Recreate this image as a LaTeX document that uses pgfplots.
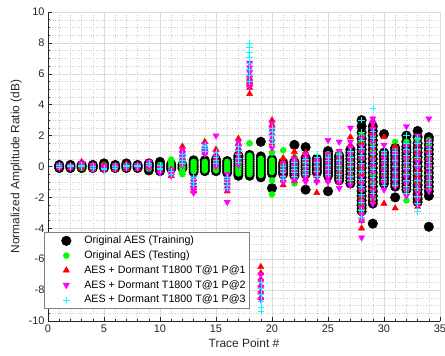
\documentclass[border=0pt]{standalone}
\usepackage{pgfplots}
\pgfplotsset{compat=1.18}
\usepackage{fontspec}
\setmainfont{Liberation Sans}
\definecolor{axgray}{HTML}{262626}
\definecolor{gridmaj}{HTML}{DCDCDC}
\definecolor{gridmin}{HTML}{D0D0D0}
\definecolor{mgreen}{RGB}{0,255,0}
\definecolor{mred}{RGB}{255,0,0}
\definecolor{mmag}{RGB}{255,0,255}
\definecolor{mcyan}{RGB}{0,255,255}
\begin{document}
\begin{tikzpicture}
\begin{axis}[
  scale only axis,
  width=392bp, height=309bp,
  xmin=0, xmax=35, ymin=-10, ymax=10,
  xtick={0,5,...,35}, ytick={-10,-8,...,10},
  minor x tick num=4, minor y tick num=3,
  axis x line*=bottom, axis y line*=left,
  axis line style={axgray, line width=0.5pt},
  tick align=inside,
  major tick length=4bp, minor tick length=2bp,
  tick style={axgray, line width=0.5pt},
  grid=both,
  major grid style={gridmaj, line width=0.5pt},
  minor grid style={gridmin, line width=0.4pt, dotted},
  ticklabel style={font=\fontsize{11}{13}\selectfont, text=axgray},
  /pgf/number format/assume math mode=true,
  xlabel={Trace Point \#},
  ylabel={Normalized Amplitude Ratio (dB)},
  label style={font=\fontsize{12}{14}\selectfont, text=axgray},
  legend style={at={(-0.01,0.04)}, anchor=south west, draw=gray, line width=0.5pt,
    font=\fontsize{10.75}{13}\selectfont, row sep=1.5bp, inner xsep=2bp, inner ysep=2bp},
  legend cell align=left,
  legend image code/.code={\path[draw=none,fill=none] (0bp,0bp) (36bp,0bp); \draw[#1] plot coordinates {(20bp,0bp)};},
]
\addplot[only marks, mark=*, mark size=4.8bp, draw=black, fill=black] coordinates {
(1,-0.1)(1,0)(1,0.1)
(2,-0.1)(2,0)(2,0.1)
(3,-0.1)(3,0)(3,0.1)
(4,-0.1)(4,0)(4,0.1)
(5,-0.1)(5,0.05)(5,0.2)
(6,-0.1)(6,0)(6,0.1)
(7,-0.1)(7,0)(7,0.1)(7,0.2)
(8,-0.1)(8,0)(8,0.1)
(9,-0.25)(9,-0.1)(9,0.05)(9,0.2)
(10,-0.3)(10,-0.15)(10,0)(10,0.15)(10,0.3)
(11,-0.15)(11,0)(11,0.15)
(12,-0.1)(12,0.1)
(13,-0.35)(13,-0.2)(13,-0.05)(13,0.1)(13,0.25)(13,0.4)
(14,-0.3)(14,-0.15)(14,0)(14,0.15)(14,0.3)(14,0.4)
(15,-0.3)(15,-0.15)(15,0)(15,0.15)(15,0.3)(15,0.45)
(16,-0.4)(16,-0.25)(16,-0.1)(16,0.05)(16,0.2)(16,0.35)
(17,-0.6)(17,-0.45)(17,-0.3)(17,-0.15)(17,0)(17,0.15)(17,0.3)(17,0.45)(17,0.6)(17,0.7)
(18,-0.6)(18,-0.45)(18,-0.3)(18,-0.15)(18,0)(18,0.15)(18,0.3)(18,0.45)(18,0.6)(18,0.75)
(19,-0.7)(19,-0.55)(19,-0.4)(19,-0.25)(19,-0.1)(19,0.05)(19,0.2)(19,0.35)(19,0.5)(19,0.65)(19,1.6)
(20,-1.4)(20,-0.45)(20,-0.3)(20,-0.15)(20,0)(20,0.15)(20,0.3)(20,0.45)
(21,-0.5)(21,-0.35)(21,-0.2)(21,-0.05)(21,0.1)(21,0.25)
(22,-0.6)(22,-0.45)(22,-0.3)(22,-0.15)(22,0)(22,0.15)(22,0.3)(22,1.4)
(23,-1.5)(23,-0.5)(23,-0.35)(23,-0.2)(23,-0.05)(23,0.1)(23,0.25)(23,0.4)(23,0.55)(23,1.25)
(24,-0.4)(24,-0.25)(24,-0.1)(24,0.05)(24,0.2)(24,0.35)(24,0.5)
(25,-1.6)(25,-0.6)(25,-0.45)(25,-0.3)(25,-0.15)(25,0)(25,0.15)(25,0.3)(25,0.45)(25,0.6)(25,0.75)(25,0.9)(25,1.0)
(26,-0.9)(26,-0.75)(26,-0.6)(26,-0.45)(26,-0.3)(26,-0.15)(26,0)(26,0.15)(26,0.3)(26,0.45)(26,0.6)(26,0.7)
(27,-1.1)(27,-0.9)(27,-0.7)(27,-0.5)(27,-0.3)(27,-0.1)(27,0.1)(27,0.3)(27,0.5)(27,0.7)(27,0.9)(27,1.1)
(28,-2.9)(28,-2.7)(28,-2.5)(28,-2.2)(28,-1.9)(28,-1.6)(28,-1.3)(28,-1.0)(28,-0.7)(28,-0.4)(28,-0.1)(28,0.2)(28,0.5)(28,0.8)(28,1.1)(28,1.4)(28,1.8)(28,2.2)(28,2.6)(28,3.0)
(29,-3.7)(29,-2.4)(29,-2.2)(29,-1.9)(29,-1.6)(29,-1.3)(29,-1.0)(29,-0.7)(29,-0.4)(29,-0.1)(29,0.2)(29,0.5)(29,0.8)(29,1.1)(29,1.4)(29,1.7)(29,2.0)(29,2.3)(29,2.6)
(30,-1.1)(30,-0.9)(30,-0.7)(30,-0.5)(30,-0.3)(30,-0.1)(30,0.1)(30,0.3)(30,0.5)(30,0.7)(30,0.9)(30,2.1)
(31,-2.0)(31,-1.3)(31,-1.1)(31,-0.9)(31,-0.7)(31,-0.5)(31,-0.3)(31,-0.1)(31,0.1)(31,0.3)(31,0.5)(31,0.7)(31,0.9)(31,1.1)(31,1.2)
(32,-1.5)(32,-1.3)(32,-1.1)(32,-0.9)(32,-0.7)(32,-0.5)(32,-0.3)(32,-0.1)(32,0.1)(32,0.3)(32,0.5)(32,0.7)(32,0.9)(32,1.1)(32,1.3)(32,1.6)(32,2.0)
(33,-2.3)(33,-2.1)(33,-1.8)(33,-1.5)(33,-1.2)(33,-0.9)(33,-0.6)(33,-0.3)(33,0)(33,0.3)(33,0.6)(33,0.9)(33,1.2)(33,1.5)(33,1.9)(33,2.3)
(34,-3.9)(34,-1.9)(34,-1.6)(34,-1.3)(34,-1.0)(34,-0.7)(34,-0.4)(34,-0.1)(34,0.2)(34,0.5)(34,0.8)(34,1.1)(34,1.4)(34,1.7)(34,1.9)
};
\addlegendentry{Original AES (Training)}
\addplot[only marks, mark=*, mark size=3bp, draw=mgreen, fill=mgreen] coordinates {
(1,-0.05)(1,0.05)
(2,0)
(3,-0.1)(3,0.05)
(4,-0.15)(4,0)
(5,-0.05)(5,0.1)
(6,-0.05)(6,0.05)
(7,-0.1)(7,0.05)
(8,0)
(9,-0.15)(9,0)(9,0.15)
(10,-0.1)(10,0.1)
(11,-0.3)(11,-0.15)(11,0)(11,0.15)(11,0.3)(11,0.45)
(12,-0.5)(12,-0.35)(12,-0.2)(12,-0.05)(12,0.1)(12,0.25)(12,0.4)(12,0.5)
(13,-0.3)(13,-0.15)(13,0)(13,0.15)(13,0.3)
(14,-0.25)(14,-0.1)(14,0.05)(14,0.2)(14,0.3)
(15,-0.25)(15,-0.1)(15,0.05)(15,0.2)(15,0.35)
(16,-0.3)(16,-0.15)(16,0)(16,0.15)(16,0.3)
(17,-0.45)(17,-0.3)(17,-0.15)(17,0)(17,0.15)(17,0.3)(17,0.45)
(18,-0.5)(18,-0.35)(18,-0.2)(18,-0.05)(18,0.1)(18,0.25)(18,0.4)(18,0.55)(18,0.7)(18,1.5)
(19,-0.55)(19,-0.4)(19,-0.25)(19,-0.1)(19,0.05)(19,0.2)(19,0.35)(19,0.5)
(20,-1.8)(20,-0.9)(20,-0.35)(20,-0.2)(20,-0.05)(20,0.1)(20,0.25)(20,0.4)(20,0.9)
(21,-0.3)(21,-0.1)(21,0.1)(21,1.05)
(22,-1.1)(22,-0.8)(22,-0.3)(22,0)(22,0.3)(22,0.6)
(23,-0.4)(23,-0.1)(23,0.2)(23,0.4)
(24,-0.3)(24,0)(24,0.3)
(25,-0.6)(25,-0.3)(25,0)(25,0.3)(25,0.6)(25,0.8)
(26,-0.7)(26,-0.4)(26,-0.1)(26,0.2)(26,0.5)(26,0.8)
(27,-0.9)(27,-0.6)(27,-0.3)(27,0)(27,0.3)(27,0.6)(27,0.9)
(28,-2.8)(28,-2.5)(28,-2.0)(28,-1.5)(28,-1.0)(28,-0.5)(28,0)(28,0.5)(28,1.0)(28,1.5)(28,2.0)
(29,-2.1)(29,-1.5)(29,-1.0)(29,-0.5)(29,0)(29,0.5)(29,1.0)(29,1.5)(29,2.0)
(30,-0.9)(30,-0.5)(30,-0.1)(30,0.3)(30,0.8)
(31,-1.2)(31,-0.8)(31,-0.4)(31,0)(31,0.4)(31,0.8)(31,1.2)(31,1.6)
(32,-2.2)(32,-1.5)(32,-1.0)(32,-0.5)(32,0)(32,0.5)(32,1.0)(32,1.6)
(33,-2.0)(33,-1.5)(33,-1.0)(33,-0.5)(33,0)(33,0.5)(33,1.0)(33,1.5)(33,1.8)
(34,-1.4)(34,-1.0)(34,-0.5)(34,0)(34,0.5)(34,1.0)(34,1.4)(34,1.7)
};
\addlegendentry{Original AES (Testing)}
\addplot[only marks, mark=triangle*, mark size=3.6bp, draw=mred, fill=mred] coordinates {
(1,-0.1)(1,0.05)
(2,-0.1)(2,0.05)
(3,-0.1)(3,0.1)(3,0.3)
(4,-0.15)(4,0.1)
(5,-0.2)(5,0.1)
(6,-0.2)(6,0.05)
(7,-0.15)(7,0.15)
(8,-0.15)(8,0.1)
(9,0)(9,0.3)
(10,-0.3)(10,0)
(11,-0.6)(11,-0.4)(11,-0.2)
(12,0.2)(12,0.5)(12,0.8)(12,1.05)(12,1.3)
(13,-1.6)(13,-1.4)(13,-1.2)(13,-1.0)(13,-0.8)
(14,0.9)(14,1.1)(14,1.3)(14,1.6)
(15,0.2)(15,0.5)(15,0.8)(15,1.1)
(16,-1.6)(16,-1.3)(16,-1.0)(16,-0.7)
(17,0.3)(17,0.6)(17,0.9)(17,1.2)(17,1.5)(17,1.8)
(18,4.7)(18,5.1)(18,5.3)(18,5.5)(18,5.7)(18,5.9)
(19,-6.5)(19,-6.9)(19,-7.3)(19,-7.7)(19,-8.1)(19,-8.5)
(20,1.5)(20,1.8)(20,2.1)(20,2.4)(20,2.7)(20,3.0)
(21,-1.2)(21,-0.9)(21,-0.6)(21,-0.3)(21,0)(21,0.3)(21,0.55)
(22,-0.9)(22,-0.6)(22,-0.3)(22,0)(22,0.3)(22,0.6)(22,0.95)
(23,-0.8)(23,-0.5)(23,-0.2)(23,0.1)(23,0.4)(23,0.7)(23,0.9)
(24,-1.7)(24,-0.9)(24,-0.6)(24,-0.3)(24,0)(24,0.3)(24,0.5)
(25,-0.9)(25,-0.6)(25,-0.3)(25,0)(25,0.3)(25,0.6)
(26,-1.0)(26,-0.7)(26,-0.4)(26,-0.1)(26,0.2)(26,0.6)
(27,-1.0)(27,-0.6)(27,-0.2)(27,0.2)(27,0.6)(27,1.0)(27,1.4)(27,1.9)
(28,-4.0)(28,-3.5)(28,-3.0)(28,-2.5)(28,-2.0)(28,-1.5)(28,-1.0)(28,-0.5)(28,0)(28,0.5)(28,1.0)(28,1.5)(28,1.9)
(29,-2.3)(29,-1.8)(29,-1.3)(29,-0.8)(29,-0.3)(29,0.2)(29,0.7)(29,1.2)(29,1.7)(29,2.2)(29,2.6)(29,3.0)
(30,-2.4)(30,-0.8)(30,-0.4)(30,0)(30,0.4)(30,0.7)(30,1.9)
(31,-2.7)(31,-1.2)(31,-0.8)(31,-0.4)(31,0)(31,0.4)(31,0.8)(31,1.3)
(32,-1.7)(32,-1.3)(32,-0.9)(32,-0.5)(32,-0.1)(32,0.3)(32,0.7)(32,1.0)(32,1.4)
(33,-2.6)(33,-2.2)(33,-1.8)(33,-1.4)(33,-1.0)(33,-0.6)(33,-0.2)(33,0.2)(33,0.6)(33,1.0)(33,1.4)
(34,-1.3)(34,-0.9)(34,-0.5)(34,-0.1)(34,0.3)(34,0.7)(34,1.1)(34,1.6)
};
\addlegendentry{AES + Dormant T1800 T@1 P@1}
\addplot[only marks, mark=triangle*, mark options={rotate=180}, mark size=3.6bp, draw=mmag, fill=mmag] coordinates {
(1,-0.1)(1,0)(1,0.1)
(2,-0.1)(2,0.05)
(3,0)(3,0.1)(3,0.2)
(4,-0.2)(4,0)(4,0.1)
(5,-0.2)(5,-0.1)(5,0)
(6,-0.15)(6,0.05)
(7,-0.1)(7,0.1)
(8,-0.1)(8,0)(8,0.1)
(9,-0.1)(9,0.1)(9,0.3)
(10,-0.4)(10,-0.2)(10,0)
(11,-0.6)(11,-0.4)(11,-0.2)
(12,0.1)(12,0.35)(12,0.6)(12,0.85)(12,1.1)
(13,-1.7)(13,-1.45)(13,-1.2)(13,-0.95)(13,-0.7)
(14,0.8)(14,1.0)(14,1.2)(14,1.45)
(15,0)(15,0.3)(15,0.6)(15,0.9)(15,2.0)
(16,-2.3)(16,-1.5)(16,-1.25)(16,-1.0)(16,-0.75)(16,-0.5)
(17,0.1)(17,0.4)(17,0.7)(17,1.0)(17,1.3)(17,1.6)
(18,5.2)(18,5.5)(18,5.8)(18,6.1)(18,6.4)(18,6.7)
(19,-7.0)(19,-7.4)(19,-7.8)(19,-8.2)(19,-8.6)
(20,1.2)(20,1.6)(20,2.0)(20,2.4)(20,2.8)
(21,-1.0)(21,-0.7)(21,-0.4)(21,-0.1)(21,0.2)
(22,-0.9)(22,-0.6)(22,-0.3)(22,0)(22,0.3)(22,0.5)
(23,-1.0)(23,-0.7)(23,-0.4)(23,-0.1)(23,0.2)(23,0.5)(23,0.8)
(24,-1.0)(24,-0.7)(24,-0.4)(24,-0.1)(24,0.2)(24,0.4)
(25,-1.0)(25,-0.7)(25,-0.4)(25,-0.1)(25,0.2)(25,0.5)(25,0.8)(25,1.7)
(26,-1.4)(26,-1.0)(26,-0.6)(26,-0.2)(26,0.2)(26,0.6)(26,1.0)(26,1.6)
(27,-1.2)(27,-0.8)(27,-0.4)(27,0)(27,0.4)(27,0.8)(27,1.2)(27,1.6)(27,2.5)
(28,-4.6)(28,-3.5)(28,-3.1)(28,-2.7)(28,-2.3)(28,-1.9)(28,-1.5)(28,-1.1)(28,-0.7)(28,-0.3)(28,0.1)(28,0.5)(28,0.9)(28,1.3)(28,1.8)
(29,-2.4)(29,-2.0)(29,-1.6)(29,-1.2)(29,-0.8)(29,-0.4)(29,0)(29,0.4)(29,0.8)(29,1.2)(29,1.6)(29,2.0)(29,2.4)(29,2.8)(29,3.1)
(30,-1.5)(30,-1.1)(30,-0.7)(30,-0.3)(30,0.1)(30,0.5)(30,0.9)(30,1.4)
(31,-1.3)(31,-1.0)(31,-0.7)(31,-0.4)(31,-0.1)(31,0.2)(31,0.5)(31,0.8)(31,1.0)
(32,-1.9)(32,-1.5)(32,-1.1)(32,-0.7)(32,-0.3)(32,0.1)(32,0.5)(32,0.9)(32,1.3)(32,2.6)
(33,-2.5)(33,-2.1)(33,-1.7)(33,-1.3)(33,-0.9)(33,-0.5)(33,-0.1)(33,0.3)(33,0.7)(33,1.1)(33,1.5)(33,2.0)
(34,-1.6)(34,-1.2)(34,-0.8)(34,-0.4)(34,0)(34,0.4)(34,0.8)(34,1.2)(34,1.6)(34,3.1)
};
\addlegendentry{AES + Dormant T1800 T@1 P@2}
\addplot[only marks, mark=+, mark size=3.2bp, draw=mcyan, line width=0.5pt] coordinates {
(1,-0.05)(1,0.1)
(2,0)(2,0.05)
(3,0)(3,0.1)
(4,-0.1)(4,0)
(5,-0.2)(5,-0.1)
(6,-0.1)(6,0)
(7,0)(7,0.1)
(8,0)(8,0.05)
(9,0.1)(9,0.2)
(10,-0.2)(10,-0.1)(10,0.1)
(11,-0.5)(11,-0.3)
(12,0.2)(12,0.4)(12,0.6)(12,0.8)
(13,-1.2)(13,-1.0)(13,-0.8)(13,-0.7)
(14,1.0)(14,1.15)(14,1.3)(14,1.4)
(15,0.2)(15,0.4)(15,0.6)(15,0.9)
(16,-1.4)(16,-1.2)(16,-1.0)(16,-0.8)(16,-0.7)
(17,0.3)(17,0.55)(17,0.8)(17,1.05)(17,1.3)
(18,5.5)(18,5.9)(18,6.3)(18,6.7)(18,7.1)(18,7.4)(18,7.7)(18,8.0)
(19,-7.5)(19,-7.9)(19,-8.3)(19,-8.7)(19,-9.1)(19,-9.4)
(20,1.5)(20,1.75)(20,2.0)(20,2.25)(20,2.5)
(21,-0.8)(21,-0.6)(21,-0.4)(21,-0.2)(21,0)
(22,-0.6)(22,-0.4)(22,-0.2)(22,0)(22,0.3)
(23,-0.5)(23,-0.25)(23,0)(23,0.25)(23,0.5)
(24,-0.6)(24,-0.3)(24,0)(24,0.3)(24,0.6)(24,0.8)
(25,-0.5)(25,-0.2)(25,0.1)(25,0.4)(25,0.6)
(26,-0.8)(26,-0.5)(26,-0.2)(26,0.1)(26,0.4)(26,0.8)
(27,-0.9)(27,-0.6)(27,-0.3)(27,0)(27,0.3)(27,0.6)(27,1.0)
(28,-3.3)(28,-2.8)(28,-2.3)(28,-1.8)(28,-1.3)(28,-0.8)(28,-0.3)(28,0.2)(28,0.7)(28,1.2)(28,1.7)(28,2.2)(28,3.0)
(29,-1.7)(29,-1.2)(29,-0.7)(29,-0.2)(29,0.3)(29,0.8)(29,1.3)(29,1.8)(29,2.3)(29,3.8)
(30,-1.2)(30,-0.8)(30,-0.4)(30,0)(30,0.4)(30,0.8)(30,1.0)
(31,-1.2)(31,-0.8)(31,-0.4)(31,0)(31,0.4)(31,0.8)(31,1.0)
(32,-1.7)(32,-1.3)(32,-0.9)(32,-0.5)(32,-0.1)(32,0.3)(32,0.7)(32,1.1)(32,1.5)(32,2.0)
(33,-2.9)(33,-2.4)(33,-1.9)(33,-1.4)(33,-0.9)(33,-0.4)(33,0.1)(33,0.6)(33,1.1)(33,1.5)(33,1.8)
(34,-1.3)(34,-0.9)(34,-0.5)(34,-0.1)(34,0.3)(34,0.7)(34,1.1)(34,1.6)
};
\addlegendentry{AES + Dormant T1800 T@1 P@3}
\end{axis}
\pgfresetboundingbox
\path ([xshift=-48bp,yshift=-35bp]current axis.south west) rectangle ([xshift=5bp,yshift=12bp]current axis.north east);
\end{tikzpicture}
\end{document}
